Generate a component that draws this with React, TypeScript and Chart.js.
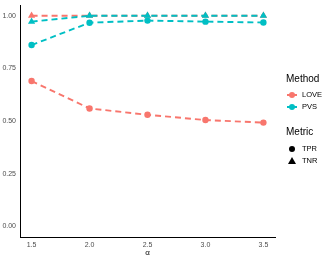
import React, { useEffect, useRef } from "react";
import { Chart, registerables } from "chart.js";
Chart.register(...registerables);

const alphas = [1.5, 2.0, 2.5, 3.0, 3.5];
const loveTPR = [0.69, 0.56, 0.53, 0.505, 0.493];
const loveTNR = [1.0, 1.0, 1.0, 1.0, 1.0];
const pvsTPR = [0.861, 0.967, 0.977, 0.972, 0.968];
const pvsTNR = [0.972, 1.0, 1.0, 1.0, 1.0];
const xTicks = [1.5, 2.0, 2.5, 3.0, 3.5];
const yTicks = [0, 0.25, 0.5, 0.75, 1.0];
const LOVE = "#F8766D";
const PVS = "#00BFC4";

export default function App() {
  const ref = useRef<HTMLCanvasElement>(null);
  useEffect(() => {
    const mk = (vals: number[], color: string, shape: string, order: number) => ({
      data: alphas.map((a, i) => ({ x: a, y: vals[i] })),
      borderColor: color,
      backgroundColor: color,
      borderDash: [6, 4],
      borderWidth: 1.9,
      pointStyle: shape,
      pointRadius: shape === "triangle" ? 4.2 : 3.2,
      pointBorderWidth: 0,
      showLine: true,
      fill: false,
      tension: 0,
      order,
    });
    const chart = new Chart(ref.current!, {
      type: "scatter",
      data: {
        datasets: [
          mk(loveTPR, LOVE, "circle", 3),
          mk(loveTNR, LOVE, "triangle", 2),
          mk(pvsTPR, PVS, "circle", 1),
          mk(pvsTNR, PVS, "triangle", 0),
        ] as any,
      },
      options: {
        animation: false,
        responsive: false,
        layout: { padding: { top: 3, right: 57, left: 0, bottom: 0 } },
        plugins: { legend: { display: false }, tooltip: { enabled: false } },
        scales: {
          x: {
            type: "linear",
            min: 1.4,
            max: 3.6,
            afterBuildTicks: (s: any) => {
              s.ticks = xTicks.map((v) => ({ value: v }));
            },
            afterFit: (s: any) => {
              s.height = 21;
            },
            grid: { display: false, drawTicks: true, tickLength: 3, tickColor: "#333" } as any,
            border: { color: "#000", width: 1 },
            ticks: {
              color: "#4d4d4d",
              font: { family: "Liberation Sans", size: 7 },
              padding: 1,
              maxRotation: 0,
              callback: (v: any) => Number(v).toFixed(1),
            },
            title: {
              display: true,
              text: "α",
              color: "#000",
              font: { family: "Liberation Sans", size: 8 },
              padding: { top: 0, bottom: 0 },
            },
          },
          y: {
            type: "linear",
            min: -0.05,
            max: 1.05,
            afterBuildTicks: (s: any) => {
              s.ticks = yTicks.map((v) => ({ value: v }));
            },
            afterFit: (s: any) => {
              s.width = 20;
            },
            grid: { display: false, drawTicks: true, tickLength: 3, tickColor: "#333" } as any,
            border: { color: "#000", width: 1 },
            ticks: {
              color: "#4d4d4d",
              font: { family: "Liberation Sans", size: 7 },
              padding: 1,
              callback: (v: any) => Number(v).toFixed(2),
            },
          },
        },
      },
    });
    return () => chart.destroy();
  }, []);

  const txt: React.CSSProperties = {
    position: "absolute",
    fontFamily: "Liberation Sans, Arial, sans-serif",
    color: "#000",
    whiteSpace: "nowrap",
    lineHeight: 1,
  };
  const swatch = (color: string, top: number) => (
    <div style={{ position: "absolute", left: 287, top: top - 1, width: 10, height: 2, background: color }}>
      <div
        style={{
          position: "absolute",
          left: 2,
          top: -2.5,
          width: 6,
          height: 6,
          borderRadius: "50%",
          background: color,
        }}
      />
    </div>
  );
  return (
    <div style={{ position: "fixed", left: 0, top: 0, width: 332, height: 258, background: "#fff" }}>
      <canvas ref={ref} width={332} height={258} style={{ display: "block" }} />
      <div style={{ ...txt, left: 286, top: 74, fontSize: 10 }}>Method</div>
      {swatch(LOVE, 95)}
      <div style={{ ...txt, left: 302, top: 91, fontSize: 7.5 }}>LOVE</div>
      {swatch(PVS, 107)}
      <div style={{ ...txt, left: 302, top: 103, fontSize: 7.5 }}>PVS</div>
      <div style={{ ...txt, left: 286, top: 127, fontSize: 10 }}>Metric</div>
      <div
        style={{
          position: "absolute",
          left: 289,
          top: 146,
          width: 6,
          height: 6,
          borderRadius: "50%",
          background: "#000",
        }}
      />
      <div style={{ ...txt, left: 302, top: 145, fontSize: 7.5 }}>TPR</div>
      <div
        style={{
          position: "absolute",
          left: 288,
          top: 157,
          width: 0,
          height: 0,
          borderLeft: "4px solid transparent",
          borderRight: "4px solid transparent",
          borderBottom: "7px solid #000",
        }}
      />
      <div style={{ ...txt, left: 302, top: 157, fontSize: 7.5 }}>TNR</div>
    </div>
  );
}
